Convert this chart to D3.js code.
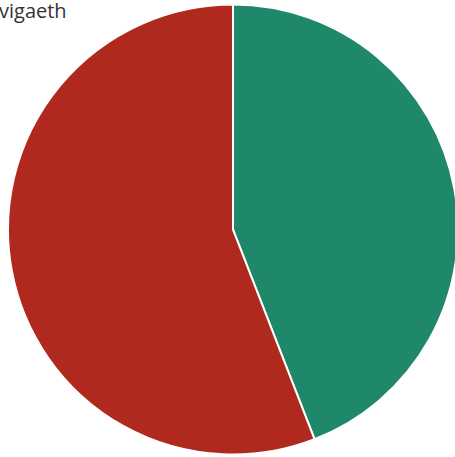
<!DOCTYPE html>
<html><head><meta charset="utf-8">
<script src="https://cdn.jsdelivr.net/npm/d3@7"></script>
<style>body{margin:0;background:#fff}svg{display:block}</style>
</head><body>
<script>
const categories = ["A", "B"];
const values = [44.1, 55.9];
const colors = ["#20886a", "#b0291e"];
const titleText = "vigaeth";

const W = 455, H = 457;
const svg = d3.select("body").append("svg").attr("width", W).attr("height", H);
const cx = 233, cy = 229.5, r = 225;
const pie = d3.pie().sort(null).value(d => d)(values);
const arc = d3.arc().innerRadius(0).outerRadius(r);
const g = svg.append("g").attr("transform", `translate(${cx},${cy})`);
g.selectAll("path").data(pie).join("path")
  .attr("d", arc)
  .attr("fill", (d, i) => colors[i])
  .attr("stroke", "#fff").attr("stroke-width", 2);
svg.append("text").attr("x", -1).attr("y", 18)
  .attr("font-family", "Open Sans").attr("font-size", 20).attr("fill", "#333")
  .text(titleText);
</script>
</body></html>
